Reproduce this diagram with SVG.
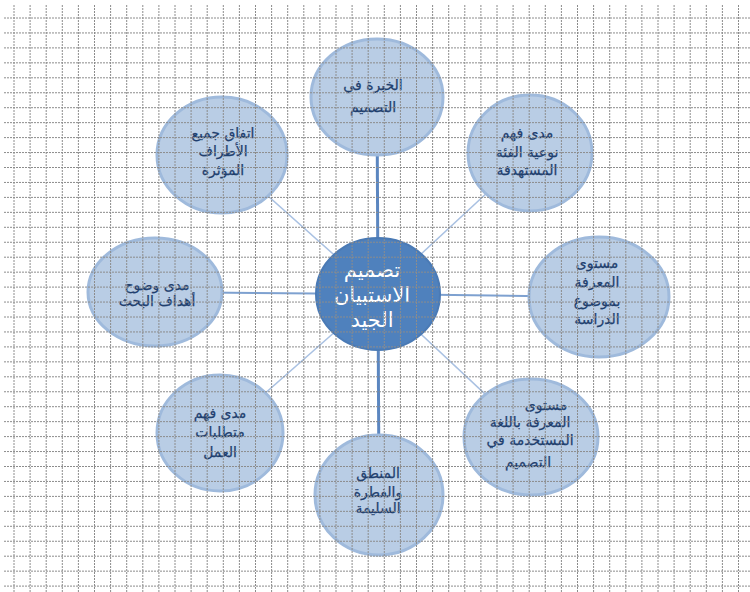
<svg xmlns="http://www.w3.org/2000/svg" width="750" height="592" viewBox="0 0 750 592">
<style>
.outer{fill:#b9cde5;stroke:#9fbadc;stroke-width:3}
.center{fill:#4f81bd;stroke:#4a7ab5;stroke-width:2}
.t{font-family:"DejaVu Sans",sans-serif;font-size:14px;fill:#1f3f6e;stroke:#1f3f6e;stroke-width:0.25;text-anchor:middle}
.tc{font-family:"DejaVu Sans",sans-serif;font-size:21px;fill:#ffffff;text-anchor:middle}
.thick{stroke:#5b86c0;stroke-width:3}
.mid{stroke:#7ea1d0;stroke-width:2}
.thin{stroke:#a9c1e2;stroke-width:1.5}
.grid{fill:none;stroke:#8c8c8c;stroke-width:1;stroke-dasharray:2 1}
</style>
<rect width="750" height="592" fill="#ffffff"/>
<g id="connectors">
<line class="thick" x1="378" y1="294" x2="377" y2="97"/>
<line class="thick" x1="378" y1="294" x2="379" y2="495"/>
<line class="mid" x1="378" y1="294" x2="155" y2="292"/>
<line class="mid" x1="378" y1="294" x2="598" y2="297"/>
<line class="thin" x1="378" y1="294" x2="530" y2="153"/>
<line class="thin" x1="378" y1="294" x2="222" y2="155"/>
<line class="thin" x1="378" y1="294" x2="531" y2="437"/>
<line class="thin" x1="378" y1="294" x2="220" y2="433"/>
</g>
<g id="node-top">
<ellipse class="outer" cx="377" cy="97" rx="66" ry="58"/>
<text class="t" x="373" y="90">الخبرة في</text>
<text class="t" x="373" y="112">التصميم</text>
</g>
<g id="node-topright">
<ellipse class="outer" cx="530" cy="153" rx="62" ry="58"/>
<text class="t" x="527" y="138">مدى فهم</text>
<text class="t" x="527" y="157">نوعية الفئة</text>
<text class="t" x="527" y="175">المستهدفة</text>
</g>
<g id="node-right">
<ellipse class="outer" cx="599" cy="297" rx="70" ry="60"/>
<text class="t" x="597" y="268">مستوى</text>
<text class="t" x="597" y="287">المعرفة</text>
<text class="t" x="597" y="306">بموضوع</text>
<text class="t" x="597" y="324">الدراسة</text>
</g>
<g id="node-bottomright">
<ellipse class="outer" cx="531" cy="437" rx="67" ry="58"/>
<text class="t" x="546" y="410">مستوى</text>
<text class="t" x="530" y="427">المعرفة باللغة</text>
<text class="t" x="530" y="445">المستخدمة في</text>
<text class="t" x="528" y="467">التصميم</text>
</g>
<g id="node-bottom">
<ellipse class="outer" cx="379" cy="495" rx="64" ry="60"/>
<text class="t" x="378" y="478">المنطق</text>
<text class="t" x="378" y="497">والفطرة</text>
<text class="t" x="378" y="513">السليمة</text>
</g>
<g id="node-bottomleft">
<ellipse class="outer" cx="220" cy="433" rx="63" ry="58"/>
<text class="t" x="220" y="418">مدى فهم</text>
<text class="t" x="220" y="437">متطلبات</text>
<text class="t" x="220" y="457">العمل</text>
</g>
<g id="node-left">
<ellipse class="outer" cx="155" cy="292" rx="67" ry="54"/>
<text class="t" x="157" y="290">مدى وضوح</text>
<text class="t" x="157" y="306">أهداف البحث</text>
</g>
<g id="node-topleft">
<ellipse class="outer" cx="222" cy="155" rx="65" ry="58"/>
<text class="t" x="223" y="138">اتفاق جميع</text>
<text class="t" x="223" y="156">الأطراف</text>
<text class="t" x="223" y="175">المؤثرة</text>
</g>
<g id="node-center">
<ellipse class="center" cx="378" cy="294" rx="62" ry="56"/>
<text class="tc" x="372" y="277">تصميم</text>
<text class="tc" x="372" y="302">الاستبيان</text>
<text class="tc" x="372" y="327">الجيد</text>
</g>
<g id="grid">
<path class="grid" d="M14 5V592M30.1 5V592M46.2 5V592M62.3 5V592M78.4 5V592M94.5 5V592M110.6 5V592M126.7 5V592M142.8 5V592M158.9 5V592M175 5V592M191.1 5V592M207.2 5V592M223.3 5V592M239.4 5V592M255.5 5V592M271.6 5V592M287.7 5V592M303.8 5V592M319.9 5V592M336 5V592M352.1 5V592M368.2 5V592M384.3 5V592M400.4 5V592M416.5 5V592M432.6 5V592M448.7 5V592M464.8 5V592M480.9 5V592M497 5V592M513.1 5V592M529.2 5V592M545.3 5V592M561.4 5V592M577.5 5V592M593.6 5V592M609.7 5V592M625.8 5V592M641.9 5V592M658 5V592M674.1 5V592M690.2 5V592M706.3 5V592M722.4 5V592M738.5 5V592"/>
<path class="grid" d="M4 18H750M4 32.95H750M4 47.9H750M4 62.85H750M4 77.8H750M4 92.75H750M4 107.7H750M4 122.65H750M4 137.6H750M4 152.55H750M4 167.5H750M4 182.45H750M4 197.4H750M4 212.35H750M4 227.3H750M4 242.25H750M4 257.2H750M4 272.15H750M4 287.1H750M4 302.05H750M4 317H750M4 331.95H750M4 346.9H750M4 361.85H750M4 376.8H750M4 391.75H750M4 406.7H750M4 421.65H750M4 436.6H750M4 451.55H750M4 466.5H750M4 481.45H750M4 496.4H750M4 511.35H750M4 526.3H750M4 541.25H750M4 556.2H750M4 571.15H750M4 586.1H750"/>
</g>
</svg>
